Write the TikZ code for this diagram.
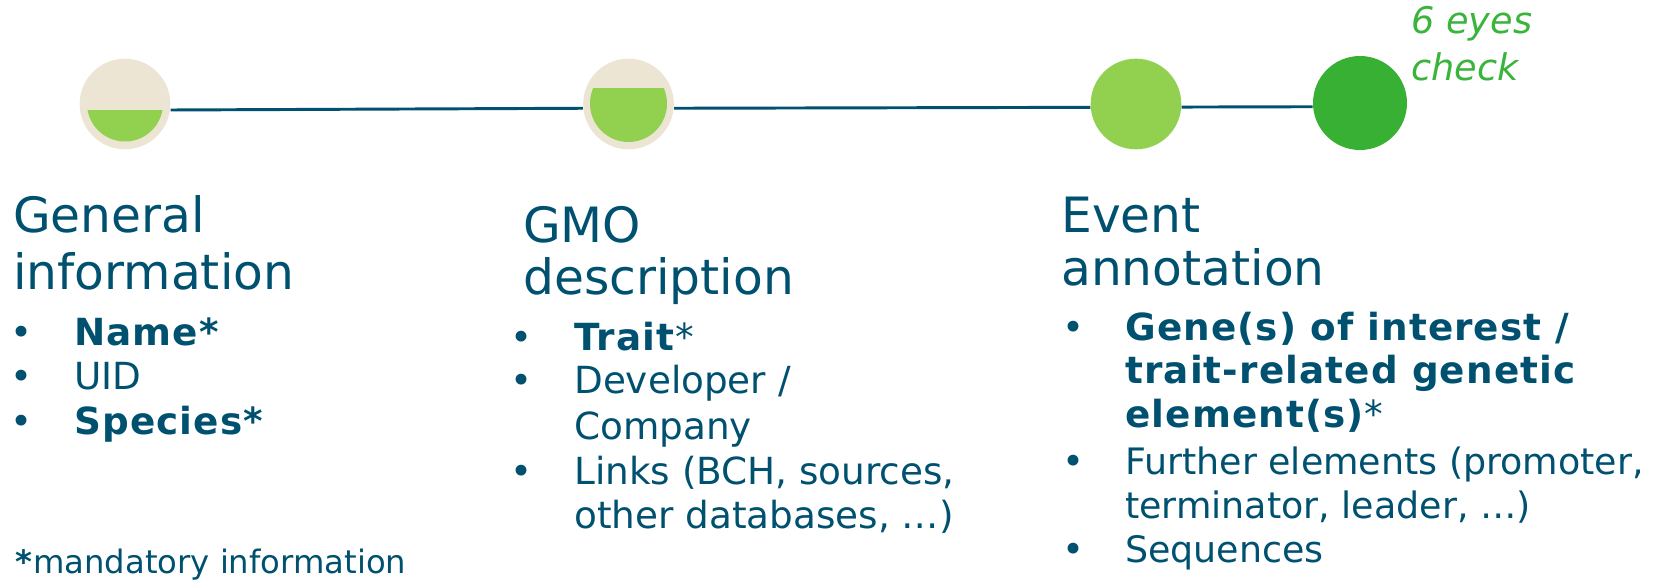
\documentclass[tikz,border=0pt]{standalone}
\usepackage{fontspec}
\setmainfont{DejaVu Sans}[BoldFeatures={LetterSpace=3}]
\definecolor{ink}{RGB}{0,80,112}
\definecolor{beige}{RGB}{236,229,211}
\definecolor{lightgreen}{RGB}{146,208,80}
\definecolor{darkgreen}{RGB}{56,176,52}
\definecolor{checkgreen}{RGB}{58,180,60}
\begin{document}
\begin{tikzpicture}[x=0.75pt,y=-0.75pt,
  heading/.style={anchor=base west, inner sep=0pt, text=ink,
    font=\fontsize{36.5}{44}\selectfont},
  item/.style={anchor=base west, inner sep=0pt, text=ink,
    font=\fontsize{28}{34}\selectfont},
  smallitem/.style={item, font=\fontsize{27.3}{33}\selectfont},
  note/.style={anchor=base west, inner sep=0pt, text=ink,
    font=\fontsize{24.2}{29}\selectfont},
  remark/.style={anchor=base west, inner sep=0pt, text=checkgreen,
    font=\fontsize{27.5}{33}\selectfont\itshape},
  stage/.style={circle, inner sep=0pt, minimum size=68pt},
  link/.style={draw=ink, line width=2.2pt}]
\useasboundingbox (0,0) rectangle (1675,580);

% stage markers
\node[stage, fill=beige] (c1) at (125,104) {};
\node[stage, fill=beige] (c2) at (628.5,104) {};
\node[stage, fill=lightgreen] (c3) at (1136,104) {};
\node[stage, fill=darkgreen, minimum size=70.5pt] (c4) at (1360,103) {};

% partial fill levels
\begin{scope}
  \clip (80,111) rectangle (170,150);
  \fill[lightgreen] (125,103.5) circle (38);
\end{scope}
\begin{scope}
  \clip (580,89) rectangle (680,150);
  \fill[lightgreen] (628.5,103.5) circle (38.5);
\end{scope}

% timeline
\draw[link] ([yshift=-4.5pt]c1.east) -- ([yshift=-3.2pt]c2.west);
\draw[link] ([yshift=-3.2pt]c2.east) -- ([yshift=-2.5pt]c3.west);
\draw[link] ([yshift=-2.3pt]c3.east) -- ([yshift=-2.8pt]c4.west);

\node[remark] (r1) at (1411,33.3) {6 eyes};
\node[remark] (r2) at (1411,81) {check};

% column 1
\node[heading] (h1a) at (13,232.7) {General};
\node[heading] (h1b) at (13,290) {information};
\node[item] (b1a) at (10,345.7) {•};
\node[item] (b1b) at (10,389.3) {•};
\node[item] (b1c) at (10,435) {•};
\node[item] (t1a) at (74,345.7) {\textbf{Name*}};
\node[item] (t1b) at (74,389.3) {UID};
\node[item] (t1c) at (74,435) {\textbf{Species*}};
\node[note] (n1) at (15,574) {\textbf{*}mandatory information};

% column 2
\node[heading] (h2a) at (523,242.7) {GMO};
\node[heading] (h2b) at (523,295) {description};
\node[item] (b2a) at (510,350.7) {•};
\node[item] (b2b) at (510,394) {•};
\node[item] (b2c) at (510,485) {•};
\node[item] (t2a) at (574,350.7) {\textbf{Trait}*};
\node[item] (t2b) at (574,394) {Developer /};
\node[item] (t2c) at (574,439.3) {Company};
\node[item] (t2d) at (574,485) {Links (BCH, sources,};
\node[item] (t2e) at (574,528.3) {other databases, …)};

% column 3
\node[heading] (h3a) at (1061,233) {Event};
\node[heading] (h3b) at (1061,286) {annotation};
\node[item] (b3a) at (1062,341) {•};
\node[item] (b3b) at (1062,475) {•};
\node[item] (b3c) at (1062,563) {•};
\node[item] (t3a) at (1125,341) {\textbf{Gene(s) of interest /}};
\node[item] (t3b) at (1125,384) {\textbf{trait-related genetic}};
\node[item] (t3c) at (1125,428) {\textbf{element(s)}*};
\node[smallitem] (t3d) at (1125,475) {Further elements (promoter,};
\node[smallitem] (t3e) at (1125,519) {terminator, leader, …)};
\node[smallitem] (t3f) at (1125,563) {Sequences};
\end{tikzpicture}
\end{document}
